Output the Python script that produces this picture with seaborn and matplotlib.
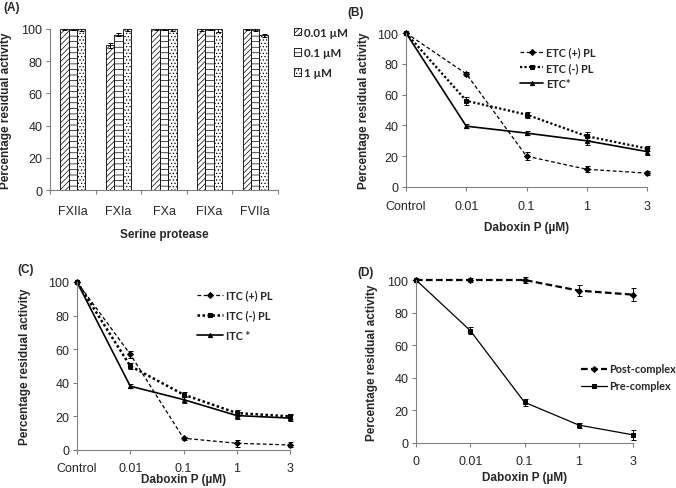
import matplotlib
matplotlib.use("Agg")
import matplotlib.pyplot as plt
from matplotlib.patches import Patch
import seaborn as sns
import pandas as pd
import numpy as np

# ---- data ----
proteases = ['FXIIa', 'FXIa', 'FXa', 'FIXa', 'FVIIa']
conc_labels = ['0.01 µM', '0.1 µM', '1 µM']
act_001 = [100, 90, 100, 100, 100]
act_01 = [100, 96.5, 100, 100, 100]
act_1 = [100, 100, 100, 100, 96]
err_001 = [0.5, 1.5, 0.6, 1.0, 0.8]
err_01 = [0.8, 0.8, 0.8, 0.5, 1.0]
err_1 = [1.0, 1.2, 1.0, 1.6, 1.2]

dose_b = ['Control', '0.01', '0.1', '1', '3']
etc_plus = [100, 73.5, 20, 11.5, 9]
etc_minus = [100, 56, 47, 33, 25]
etc_star = [100, 39.5, 35, 30, 23]
etc_plus_err = [0, 1.5, 2.5, 2, 1.5]
etc_minus_err = [0, 2.5, 2, 2.5, 1.5]
etc_star_err = [0, 1.5, 1.5, 2.5, 2.5]

dose_c = ['Control', '0.01', '0.1', '1', '3']
itc_plus = [100, 57, 7, 4, 3]
itc_minus = [100, 50, 33, 22, 20]
itc_star = [100, 38, 30, 20.5, 19]
itc_plus_err = [0, 2, 1, 2, 1.5]
itc_minus_err = [0, 1.5, 1.5, 2, 1.5]
itc_star_err = [0, 1, 2, 2, 2]

dose_d = ['0', '0.01', '0.1', '1', '3']
post_complex = [100, 100, 100, 93.5, 91]
pre_complex = [100, 69, 25, 11, 5]
post_err = [0, 1, 2, 3.5, 4]
pre_err = [0, 2, 2, 1.5, 3]

# ---- style ----
sns.set_style('white')
plt.rcParams['font.family'] = ['Liberation Sans', 'DejaVu Sans']
plt.rcParams['hatch.color'] = '#666666'
plt.rcParams['hatch.linewidth'] = 0.5

W, H = 676, 489
fig = plt.figure(figsize=(W / 100, H / 100), dpi=100)
TICK_FS = 9
LAB_FS = 8.5
LEG_FONT = {'family': 'Lato', 'weight': 'bold', 'size': 7.8}
LEG_FONT_A = {'family': 'Lato', 'weight': 'bold', 'size': 8.3}
SPINE = '#808080'


def make_ax(left, right, top, bottom):
    return fig.add_axes([left / W, (H - bottom) / H, (right - left) / W, (bottom - top) / H])


def style_ax(ax):
    sns.despine(ax=ax)
    for s in ['left', 'bottom']:
        ax.spines[s].set_color(SPINE)
        ax.spines[s].set_linewidth(0.8)
    ax.tick_params(axis='both', direction='out', length=3, width=0.8, color=SPINE,
                   labelsize=TICK_FS, pad=2.5, left=True, bottom=True)
    ax.set_ylim(0, 100)
    ax.set_yticks([0, 20, 40, 60, 80, 100])


def labels(ax, left, right, top, bottom, xlab, xlab_y, ylab_x, letter, lx, ly):
    ax.set_xlabel(xlab, fontsize=LAB_FS, fontweight='bold')
    ax.set_ylabel('Percentage residual activity', fontsize=LAB_FS, fontweight='bold')
    w, h = right - left, bottom - top
    ax.xaxis.set_label_coords(0.5, (bottom - xlab_y) / h)
    ax.xaxis.label.set_va('center')
    ax.yaxis.set_label_coords((ylab_x - left) / w, 0.5)
    ax.yaxis.label.set_va('center')
    fig.text(lx / W, 1 - ly / H, letter, fontsize=LAB_FS, fontweight='bold', va='center', ha='left')


# ---- (A) bar chart ----
L, R, T, B = 50, 278, 30, 191
axA = make_ax(L, R, T, B)
dfA = pd.DataFrame({
    'protease': proteases * 3,
    'activity': act_001 + act_01 + act_1,
    'conc': [c for c in conc_labels for _ in proteases],
})
sns.barplot(data=dfA, x='protease', y='activity', hue='conc', order=proteases,
            hue_order=conc_labels, palette=['white'] * 3, edgecolor='black',
            linewidth=0.6, width=0.55, errorbar=None, ax=axA, legend=False)
hatches = ['//////', '---', '.....']
errs = [err_001, err_01, err_1]
for cont, hatch, err in zip(axA.containers, hatches, errs):
    xs = []
    ys = []
    for bar in cont:
        bar.set_hatch(hatch)
        xs.append(bar.get_x() + bar.get_width() / 2)
        ys.append(bar.get_height())
    axA.errorbar(xs, ys, yerr=err, fmt='none', ecolor='black', elinewidth=0.7, capsize=1.8, capthick=0.7)
style_ax(axA)
axA.set_xlim(-0.5, 4.5)
axA.set_xticks(range(5))
axA.set_xticklabels(proteases)
axA.tick_params(axis='x', length=0, pad=11)
axA.set_xticks(np.arange(-0.5, 5, 1), minor=True)
axA.tick_params(axis='x', which='minor', length=3, width=0.8, color=SPINE, direction='out', bottom=True)
labels(axA, L, R, T, B, 'Serine protease', 235, 6, '(A)', 3, 8)
handlesA = [Patch(facecolor='white', edgecolor='black', linewidth=0.6, hatch=h) for h in hatches]
axA.legend(handlesA, conc_labels, loc='upper left', bbox_to_anchor=(288 / W, 1 - 22 / H),
           bbox_transform=fig.transFigure, frameon=False, prop=LEG_FONT_A, borderpad=0,
           handlelength=0.6, handleheight=0.6, handletextpad=0.25, labelspacing=0.8)


def line_panel(ax, series, xlabels):
    xpos = np.arange(len(xlabels))
    for name, vals, err, marker, ls, lw, ms in series:
        sns.lineplot(x=xpos, y=vals, ax=ax, color='black', marker=marker, linestyle=ls,
                     linewidth=lw, markersize=ms, markeredgecolor='black', label=name, clip_on=False)
        ax.errorbar(xpos, vals, yerr=err, fmt='none', ecolor='black', elinewidth=0.7,
                    capsize=1.8, capthick=0.7, clip_on=False)
    style_ax(ax)
    ax.set_xlim(0, len(xlabels) - 1)
    ax.set_xticks(xpos)
    ax.set_xticklabels(xlabels)
    ax.tick_params(axis='x', pad=6)


# ---- (B) ----
L, R, T, B = 406, 647, 34, 188
axB = make_ax(L, R, T, B)
line_panel(axB, [
    ('ETC (+) PL', etc_plus, etc_plus_err, 'D', (0, (3, 2)), 0.9, 3),
    ('ETC (-) PL', etc_minus, etc_minus_err, 's', (0, (1, 1)), 1.6, 3),
    ('ETC*', etc_star, etc_star_err, '^', '-', 1.2, 3),
], dose_b)
labels(axB, L, R, T, B, 'Daboxin P (µM)', 228, 364, '(B)', 347, 13)
axB.legend(loc='upper left', bbox_to_anchor=(515 / W, 1 - 42 / H), bbox_transform=fig.transFigure,
           frameon=False, prop=LEG_FONT, borderpad=0, handlelength=2.1, handletextpad=0.3,
           labelspacing=0.42)

# ---- (C) ----
L, R, T, B = 77, 290, 283, 451
axC = make_ax(L, R, T, B)
line_panel(axC, [
    ('ITC (+) PL', itc_plus, itc_plus_err, 'D', (0, (3, 2)), 0.9, 3),
    ('ITC (-) PL', itc_minus, itc_minus_err, 's', (0, (1, 1)), 1.8, 3),
    ('ITC *', itc_star, itc_star_err, '^', '-', 1.2, 3),
], dose_c)
labels(axC, L, R, T, B, 'Daboxin P (µM)', 480, 25, '(C)', 17, 270)
axC.legend(loc='upper left', bbox_to_anchor=(192 / W, 1 - 285 / H), bbox_transform=fig.transFigure,
           frameon=False, prop=LEG_FONT, borderpad=0, handlelength=2.4, handletextpad=0.2,
           labelspacing=0.85)

# ---- (D) ----
L, R, T, B = 416, 633, 281, 444
axD = make_ax(L, R, T, B)
line_panel(axD, [
    ('Post-complex', post_complex, post_err, 'D', (0, (3, 1.5)), 1.6, 3),
    ('Pre-complex', pre_complex, pre_err, 's', '-', 0.9, 3.5),
], dose_d)
labels(axD, L, R, T, B, 'Daboxin P (µM)', 478, 372, '(D)', 357, 273)
axD.legend(loc='upper left', bbox_to_anchor=(576 / W, 1 - 359 / H), bbox_transform=fig.transFigure,
           frameon=False, prop=LEG_FONT, borderpad=0, handlelength=2.4, handletextpad=0.2,
           labelspacing=0.55)

fig.savefig('out.png', dpi=100)
